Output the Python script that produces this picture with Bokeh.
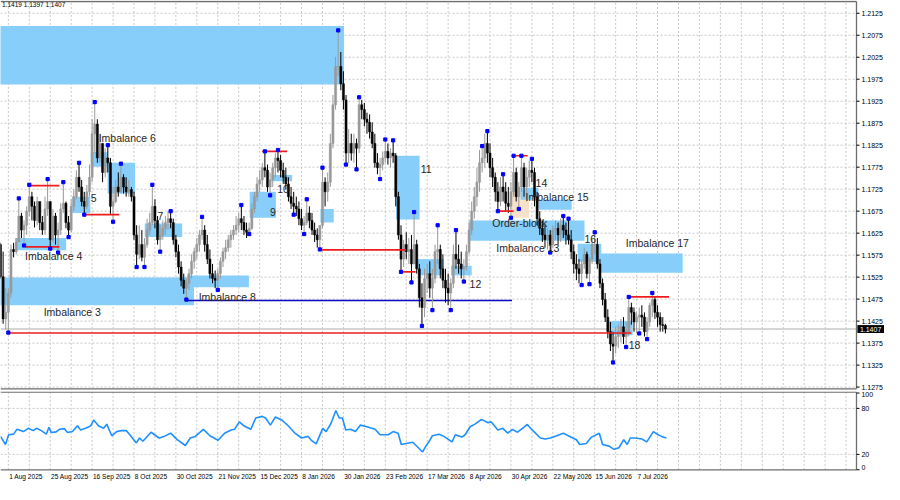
from bokeh.plotting import figure
from bokeh.layouts import column
from bokeh.models import Range1d, ColumnDataSource
from bokeh.embed import file_html
from bokeh.resources import INLINE
from bokeh.core.properties import value

# ---------------- data (prices as 1 + v/10000) ----------------
bar_idx = list(range(-3, 252))          # daily bars, 0 = 1 Aug 2025
first_open = 1599

high_v = [
    1603, 1583, 1500, 1500, 1599, 1603, 1614, 1704, 1671, 1654,
    1686, 1735, 1719, 1697, 1708, 1686, 1664, 1708, 1748, 1693,
    1680, 1671, 1649, 1693, 1741, 1697, 1664, 1702, 1724, 1768,
    1785, 1746, 1719, 1735, 1781, 1884, 1923, 1884, 1851, 1829,
    1818, 1825, 1796, 1730, 1746, 1763, 1783, 1759, 1752, 1746,
    1730, 1719, 1643, 1643, 1632, 1614, 1658, 1671, 1735, 1702,
    1664, 1643, 1654, 1664, 1675, 1675, 1658, 1621, 1599, 1561,
    1533, 1522, 1544, 1577, 1592, 1614, 1632, 1662, 1643, 1621,
    1588, 1555, 1540, 1544, 1570, 1592, 1610, 1621, 1632, 1643,
    1664, 1671, 1689, 1664, 1649, 1649, 1693, 1719, 1752, 1768,
    1785, 1811, 1781, 1763, 1785, 1807, 1814, 1803, 1785, 1774,
    1752, 1730, 1719, 1708, 1697, 1680, 1664, 1702, 1686, 1671,
    1649, 1636, 1632, 1774, 1752, 1763, 1851, 1939, 2026, 2086,
    2037, 1993, 1939, 1862, 1851, 1851, 1840, 1934, 1928, 1921,
    1899, 1895, 1877, 1851, 1807, 1796, 1811, 1838, 1829, 1818,
    1836, 1807, 1719, 1643, 1610, 1627, 1614, 1621, 1673, 1610,
    1555, 1511, 1544, 1555, 1561, 1544, 1599, 1643, 1599, 1577,
    1544, 1533, 1522, 1599, 1632, 1599, 1583, 1566, 1599, 1649,
    1697, 1730, 1774, 1814, 1823, 1851, 1857, 1829, 1796, 1763,
    1741, 1752, 1759, 1741, 1730, 1741, 1801, 1774, 1741, 1801,
    1785, 1774, 1790, 1794, 1774, 1719, 1675, 1654, 1643, 1636,
    1632, 1643, 1654, 1649, 1658, 1664, 1649, 1658, 1632, 1599,
    1577, 1566, 1566, 1592, 1583, 1570, 1610, 1627, 1614, 1566,
    1522, 1489, 1452, 1423, 1401, 1412, 1417, 1430, 1434, 1423,
    1480, 1467, 1456, 1445, 1456, 1461, 1445, 1434, 1467, 1489,
    1482, 1461, 1445, 1434, 1419,
]
low_v = [
    1522, 1419, 1406, 1399, 1478, 1570, 1577, 1605, 1614, 1597,
    1621, 1664, 1654, 1638, 1643, 1632, 1621, 1621, 1664, 1590,
    1605, 1599, 1581, 1621, 1671, 1636, 1616, 1627, 1675, 1702,
    1719, 1686, 1667, 1680, 1708, 1741, 1807, 1785, 1785, 1741,
    1752, 1763, 1669, 1651, 1693, 1708, 1715, 1715, 1708, 1708,
    1697, 1610, 1548, 1566, 1561, 1548, 1592, 1621, 1643, 1636,
    1599, 1583, 1610, 1621, 1632, 1636, 1599, 1570, 1533, 1504,
    1487, 1474, 1496, 1522, 1544, 1566, 1583, 1610, 1583, 1555,
    1522, 1511, 1500, 1496, 1522, 1548, 1566, 1583, 1592, 1610,
    1621, 1627, 1632, 1621, 1614, 1623, 1632, 1671, 1697, 1719,
    1730, 1752, 1719, 1711, 1730, 1752, 1763, 1752, 1737, 1724,
    1697, 1680, 1667, 1664, 1643, 1632, 1623, 1643, 1636, 1621,
    1605, 1592, 1588, 1636, 1686, 1697, 1730, 1818, 1906, 1982,
    1950, 1906, 1781, 1785, 1790, 1785, 1770, 1807, 1884, 1868,
    1851, 1840, 1818, 1774, 1759, 1748, 1768, 1785, 1781, 1774,
    1785, 1686, 1610, 1537, 1548, 1566, 1555, 1513, 1566, 1533,
    1456, 1414, 1434, 1489, 1478, 1450, 1511, 1555, 1522, 1500,
    1467, 1461, 1450, 1500, 1544, 1533, 1522, 1515, 1540, 1577,
    1621, 1658, 1686, 1719, 1763, 1774, 1785, 1752, 1730, 1697,
    1675, 1686, 1697, 1675, 1671, 1660, 1708, 1697, 1680, 1719,
    1708, 1697, 1730, 1741, 1686, 1643, 1621, 1605, 1592, 1588,
    1581, 1592, 1610, 1599, 1605, 1614, 1599, 1599, 1566, 1533,
    1518, 1511, 1507, 1544, 1522, 1509, 1555, 1577, 1544, 1500,
    1461, 1423, 1386, 1357, 1331, 1351, 1364, 1377, 1373, 1366,
    1390, 1417, 1401, 1397, 1397, 1412, 1390, 1384, 1412, 1434,
    1430, 1412, 1401, 1401, 1397,
]
close_v = [
    1526, 1430, 1445, 1489, 1588, 1583, 1605, 1664, 1632, 1643,
    1675, 1708, 1686, 1654, 1697, 1649, 1632, 1680, 1697, 1610,
    1664, 1621, 1632, 1680, 1693, 1649, 1632, 1686, 1708, 1752,
    1730, 1697, 1686, 1719, 1752, 1851, 1873, 1796, 1829, 1763,
    1796, 1785, 1686, 1697, 1730, 1719, 1752, 1730, 1719, 1724,
    1708, 1621, 1577, 1599, 1570, 1599, 1632, 1649, 1686, 1654,
    1610, 1621, 1636, 1649, 1658, 1649, 1610, 1583, 1548, 1518,
    1500, 1511, 1533, 1561, 1583, 1599, 1621, 1632, 1599, 1566,
    1533, 1522, 1518, 1533, 1561, 1583, 1592, 1610, 1621, 1632,
    1643, 1658, 1649, 1632, 1627, 1636, 1680, 1708, 1737, 1746,
    1774, 1768, 1730, 1746, 1774, 1796, 1790, 1768, 1752, 1737,
    1708, 1693, 1686, 1680, 1658, 1643, 1649, 1671, 1654, 1632,
    1621, 1610, 1643, 1741, 1719, 1741, 1829, 1917, 2004, 2004,
    1965, 1928, 1807, 1829, 1807, 1829, 1818, 1917, 1906, 1884,
    1877, 1855, 1829, 1785, 1774, 1781, 1796, 1811, 1796, 1807,
    1801, 1708, 1621, 1566, 1599, 1583, 1588, 1555, 1599, 1544,
    1478, 1456, 1522, 1533, 1500, 1522, 1583, 1588, 1544, 1518,
    1500, 1489, 1511, 1577, 1566, 1555, 1544, 1548, 1583, 1632,
    1675, 1708, 1741, 1785, 1796, 1829, 1807, 1774, 1752, 1719,
    1697, 1730, 1719, 1693, 1686, 1719, 1763, 1708, 1730, 1774,
    1730, 1752, 1768, 1763, 1708, 1658, 1636, 1621, 1610, 1621,
    1599, 1632, 1636, 1621, 1643, 1632, 1621, 1610, 1583, 1555,
    1544, 1533, 1555, 1577, 1533, 1566, 1599, 1599, 1555, 1511,
    1474, 1434, 1401, 1373, 1368, 1390, 1401, 1412, 1390, 1401,
    1456, 1445, 1423, 1434, 1439, 1434, 1401, 1423, 1461, 1474,
    1445, 1434, 1417, 1415, 1407,
]

# imbalance / supply-demand zones (bar index, v-units)
zone_left = [-10, -10, 68.2, 2.6, 24.4, 31.5, 37.9, 52.1, 92.2, 100.5, 119.2, 148.1,
             156.4, 169.1, 175.9, 195.7, 202.5, 217.5, 225.7, 229.5]
zone_right = [128.2, 70.9, 91.9, 22.1, 31.3, 37.9, 48.4, 66.4, 102.2, 108.4, 124.3, 157.1,
              166.3, 177.0, 220.1, 202.5, 215.2, 226.5, 257.6, 238.5]
zone_top = [2096, 1524, 1529, 1614, 1708, 1809, 1785, 1647, 1719, 1757, 1680, 1801,
            1566, 1551, 1654, 1728, 1701, 1601, 1579, 1425]
zone_bottom = [1963, 1461, 1502, 1586, 1671, 1776, 1715, 1616, 1660, 1743, 1649, 1656,
               1529, 1529, 1608, 1701, 1678, 1560, 1535, 1393]
ob_left, ob_right, ob_top, ob_bottom = [192.0], [198.9], [1726], [1660]

zone_text = ["Imbalance 6", "5", "Imbalance 4", "7", "Imbalance 3", "Imbalance 8", "9", "10",
             "11", "12", "Order-block", "Imbalance 13", "14", "Imbalance 15", "16",
             "Imbalance 17", "18"]
text_x = [34.5, 31.5, 6.4, 57.0, 13.5, 72.7, 100.0, 102.7, 157.5, 176.2, 184.9, 186.4,
          201.4, 197.6, 220.1, 235.9, 237.0]
text_v = [1842, 1704, 1572, 1664, 1445, 1480, 1673, 1726, 1772, 1509, 1648, 1592,
          1739, 1708, 1612, 1603, 1371]

red_x0 = [8, 6.4, 29.3, 97, 119.2, 150, 192.8, 187, 0, 237]
red_x1 = [19.5, 19.5, 42.4, 106.5, 151.9, 155.6, 198.4, 193, 238, 252.4]
red_v = [1733, 1594, 1667, 1811, 1587, 1537, 1801, 1675, 1398, 1480]
blue_x0, blue_x1, blue_v = [67.5], [192.4], [1472]

frac_hi_idx = [4, 8, 15, 21, 27, 33, 38, 43, 55, 62, 74, 89, 98, 103, 114, 120, 126, 134,
               144, 147, 155, 164, 171, 181, 183, 189, 193, 196, 200, 212, 214, 224, 237, 246]
frac_hi_v = [1704, 1735, 1748, 1741, 1785, 1923, 1825, 1783, 1735, 1675, 1662, 1689, 1811,
             1814, 1702, 1774, 2086, 1934, 1838, 1836, 1673, 1643, 1632, 1823, 1857, 1759,
             1801, 1801, 1794, 1664, 1658, 1627, 1480, 1489]
frac_lo_idx = [0, 6, 16, 19, 23, 29, 40, 49, 52, 58, 68, 80, 92, 100, 109, 113, 119, 129,
               133, 142, 150, 154, 158, 162, 169, 174, 187, 192, 195, 207, 219, 222, 231,
               236, 241, 244]
frac_lo_v = [1399, 1597, 1590, 1581, 1616, 1667, 1651, 1548, 1548, 1583, 1474, 1496, 1623,
             1711, 1667, 1623, 1588, 1781, 1770, 1748, 1537, 1513, 1414, 1450, 1450, 1515,
             1675, 1660, 1680, 1581, 1507, 1509, 1331, 1366, 1397, 1384]

last_price = 1.1407
last_price_lbl = "1.1407"
header = "1.1419 1.1397 1.1407"

rsi_x = [-3, -1.1, 0.1, 2, 3.25, 5.75, 7.6, 9.5, 10.75, 12.6, 14.5, 15.5, 16.4, 18.25, 19.5,
         21.4, 22.6, 24.5, 26.4, 27.6, 29.5, 31.4, 32.6, 34.5, 36.4, 37.6, 39.5, 41.4, 43.25,
         45.1, 46.4, 48.9, 50.1, 51.4, 54.5, 57.6, 59.5, 62, 64.5, 67.6, 69.5, 71.4, 74.5, 77,
         80.1, 82.6, 85.1, 86.4, 88.25, 90.1, 92.6, 94.5, 97, 98.25, 100.1, 102, 104.5, 107,
         109.5, 112, 114.5, 115.75, 117.6, 120.1, 121.4, 123.25, 125.1, 126.4, 127.6, 128.9,
         130.75, 132.6, 134.5, 137, 140.1, 142, 145.1, 147, 148.9, 150.1, 152, 154.5, 158.25,
         159.5, 160.75, 162, 164.5, 166.4, 169.5, 170.75, 173.25, 174.5, 176.4, 178.25,
         180.75, 183.25, 184.5, 187, 188.9, 190.75, 192.6, 194.5, 196.4, 198.25, 200.1,
         203.25, 205.1, 207, 209.5, 212, 213.9, 217, 218.25, 220.75, 222.6, 225.75, 227,
         229.5, 231.4, 233.25, 235.1, 236.4, 237.6, 239.5, 242, 243.9, 246.4, 248.25, 249.5,
         251.4]
rsi_v = [43.5, 32.9, 45.6, 46.4, 52.7, 49.8, 54, 51, 54, 51, 46.4, 55.3, 48.5, 49.4, 52.7,
         53.6, 48.5, 49.8, 57.4, 51.9, 54, 57, 64.8, 57, 54, 59.5, 44.3, 49.8, 51, 51, 45.6,
         35, 41.4, 37.1, 48.9, 41.4, 43.5, 47.7, 39.2, 31.6, 41.4, 43.5, 52.7, 44.3, 38.4,
         47.7, 51.9, 52.7, 62.4, 57, 52.7, 67.5, 69.6, 67.5, 58.2, 68.8, 64.8, 57, 47.7, 41.4,
         43.5, 38.4, 33.8, 54, 49.8, 60.3, 77.2, 67.5, 67.5, 51.9, 52.7, 49.8, 58.2, 56.1,
         52.7, 45.6, 45.6, 49.8, 47.7, 32.9, 34.2, 35.9, 23.2, 30.8, 37.1, 44.3, 46.4, 43.5,
         36.3, 45.6, 42.6, 45.6, 56.1, 59.5, 65.7, 61.2, 62.4, 51.9, 54, 47.7, 52.7, 48.9, 54,
         59.1, 51.9, 41.4, 40.1, 41.4, 44.3, 47.7, 44.3, 39.2, 32.9, 34.2, 42.2, 47.7, 32.9,
         30.8, 26.6, 28.7, 39.2, 32.9, 41.4, 41.4, 40.1, 36.3, 49.8, 45.6, 43.5, 41.4]

date_pos = [0, 16, 32, 48, 64, 80, 96, 112, 128, 144, 160, 176, 192, 208, 224, 240]
date_lbl = ["1 Aug 2025", "25 Aug 2025", "16 Sep 2025", "8 Oct 2025", "30 Oct 2025",
            "21 Nov 2025", "15 Dec 2025", "8 Jan 2026", "30 Jan 2026", "23 Feb 2026",
            "17 Mar 2026", "8 Apr 2026", "30 Apr 2026", "22 May 2026", "15 Jun 2026",
            "7 Jul 2026"]

price_ticks = [1.1275, 1.1325, 1.1375, 1.1425, 1.1475, 1.1525, 1.1575, 1.1625, 1.1675,
               1.1725, 1.1775, 1.1825, 1.1875, 1.1925, 1.1975, 1.2025, 1.2075, 1.2125]
price_tick_lbl = ["%.4f" % t for t in price_ticks]
rsi_ticks = [100, 80, 20, 0]
rsi_tick_lbl = ["100", "80", "20", "0"]
rsi_levels = [20, 80]


def pr(vals):
    return [1.0 + v / 10000.0 for v in vals]


# ---------------- layout constants ----------------
FONT = "Liberation Sans"
XL, XR, AX = -3.0, 334.7, 324.0        # x range; AX = price-axis line position
PY0, PY1 = 1.1265, 1.2154              # main panel y range
P_BOT, P_TOP = 1.1271, 1.21517         # main panel border lines
GRID_C, BORDER_C = "#C8C8C8", "#6E6E6E"
grid_x = list(range(0, 324, 8))
TICK_LEN, LBL_OFF = 1.15, 1.9

O = pr([first_open] + close_v[:-1])
H = pr(high_v)
L = pr(low_v)
C = pr(close_v)
col = ["#999999" if c >= o else "#000000" for o, c in zip(O, C)]
src = ColumnDataSource(dict(x=bar_idx, h=H, l=L, top=[max(a, b) for a, b in zip(O, C)],
                            bot=[min(a, b) for a, b in zip(O, C)], col=col))

xr = Range1d(XL, XR)
p = figure(frame_width=884, frame_height=391, x_range=xr, y_range=Range1d(PY0, PY1),
           output_backend="svg", toolbar_location=None, x_axis_location=None,
           y_axis_location=None, min_border=0, outline_line_color=None,
           background_fill_color="white", border_fill_color="white")
p.xgrid.visible = False
p.ygrid.visible = False

# grid
p.segment(x0=[XL] * len(price_ticks), x1=[AX] * len(price_ticks), y0=price_ticks,
          y1=price_ticks, line_color=GRID_C, line_dash="2 2", line_width=1)
p.segment(x0=grid_x, x1=grid_x, y0=[P_BOT] * len(grid_x), y1=[P_TOP] * len(grid_x),
          line_color=GRID_C, line_dash="2 2", line_width=1)

# zones
p.quad(left=ob_left, right=ob_right, top=pr(ob_top), bottom=pr(ob_bottom),
       fill_color="#F6E2CB", line_color=None)
p.quad(left=zone_left, right=zone_right, top=pr(zone_top), bottom=pr(zone_bottom),
       fill_color="#87CEFA", line_color=None)
# current price line
p.segment(x0=[XL], x1=[AX], y0=[last_price], y1=[last_price], line_color="#C8C8C8",
          line_width=1.5)
p.segment(x0=blue_x0, x1=blue_x1, y0=pr(blue_v), y1=pr(blue_v), line_color="#0A0AC8",
          line_width=1.5)
# candles
p.segment(x0="x", y0="l", x1="x", y1="h", line_color="col", line_width=1, source=src)
p.vbar(x="x", width=0.8, top="top", bottom="bot", fill_color="col", line_color="col",
       line_width=0.5, source=src)
p.segment(x0=red_x0, x1=red_x1, y0=pr(red_v), y1=pr(red_v), line_color="#EE1C1C",
          line_width=1.7)
p.scatter(x=frac_hi_idx, y=pr(frac_hi_v), marker="square", size=3.2, fill_color="#0000FF",
          line_color="#0000FF")
p.scatter(x=frac_lo_idx, y=pr(frac_lo_v), marker="square", size=3.2, fill_color="#0000FF",
          line_color="#0000FF")
p.text(x=text_x, y=pr(text_v), text=zone_text, text_font=value(FONT),
       text_font_size="10.5px", text_color="#262626", text_baseline="middle",
       text_align="left")
p.text(x=[-2.4], y=[1.2144], text=[header], text_font=value(FONT), text_font_size="6.5px",
       text_color="#000000", text_baseline="middle", text_align="left")

# borders + price axis
p.segment(x0=[XL, XL, AX], x1=[AX, AX, AX], y0=[P_TOP, P_BOT, P_BOT],
          y1=[P_TOP, P_BOT, P_TOP], line_color=BORDER_C, line_width=1.3)
p.segment(x0=[AX] * len(price_ticks), x1=[AX + TICK_LEN] * len(price_ticks), y0=price_ticks,
          y1=price_ticks, line_color="#000000", line_width=1)
p.text(x=[AX + LBL_OFF] * len(price_ticks), y=price_ticks, text=price_tick_lbl,
       text_font=value(FONT), text_font_size="7px", text_color="#000000",
       text_baseline="middle", text_align="left")
p.quad(left=[AX + 0.35], right=[XR], top=[last_price + 0.0009],
       bottom=[last_price - 0.0009], fill_color="#000000", line_color=None)
p.text(x=[AX + 1.3], y=[last_price], text=[last_price_lbl], text_font=value(FONT),
       text_font_size="7px", text_color="#FFFFFF", text_baseline="middle",
       text_align="left")

# ---------------- RSI panel ----------------
R_BOT, R_TOP = -0.1, 101.1
r = figure(frame_width=884, frame_height=93, x_range=xr, y_range=Range1d(-19.2, 102.0),
           output_backend="svg", toolbar_location=None, x_axis_location=None,
           y_axis_location=None, min_border=0, outline_line_color=None,
           background_fill_color="white", border_fill_color="white")
r.xgrid.visible = False
r.ygrid.visible = False
r.segment(x0=[XL] * 2, x1=[AX] * 2, y0=rsi_levels, y1=rsi_levels, line_color=GRID_C,
          line_dash="2 2", line_width=1)
r.segment(x0=grid_x, x1=grid_x, y0=[R_BOT] * len(grid_x), y1=[R_TOP] * len(grid_x),
          line_color=GRID_C, line_dash="2 2", line_width=1)
r.line(x=rsi_x, y=rsi_v, line_color="#1E90FF", line_width=1.6)
r.segment(x0=[XL, XL, AX], x1=[AX, AX, AX], y0=[R_TOP, R_BOT, R_BOT],
          y1=[R_TOP, R_BOT, R_TOP], line_color=BORDER_C, line_width=1.3)
r.segment(x0=[AX] * 4, x1=[AX + TICK_LEN] * 4, y0=rsi_ticks, y1=rsi_ticks,
          line_color="#000000", line_width=1)
r.text(x=[AX + LBL_OFF], y=[R_TOP], text=[rsi_tick_lbl[0]], text_font=value(FONT),
       text_font_size="7px", text_color="#000000", text_baseline="top", text_align="left")
r.text(x=[AX + LBL_OFF] * 2, y=rsi_ticks[1:3], text=rsi_tick_lbl[1:3],
       text_font=value(FONT), text_font_size="7px", text_color="#000000",
       text_baseline="middle", text_align="left")
r.text(x=[AX + LBL_OFF], y=[R_BOT], text=[rsi_tick_lbl[3]], text_font=value(FONT),
       text_font_size="7px", text_color="#000000", text_baseline="bottom", text_align="left")
# date labels, left-aligned at their grid line like the terminal does
r.text(x=[d + 0.3 for d in date_pos], y=[-9.0] * len(date_pos), text=date_lbl,
       text_font=value(FONT), text_font_size="6.6px", text_color="#000000",
       text_baseline="middle", text_align="left")

layout = column(p, r, spacing=0)
open("out.html", "w").write(file_html(layout, INLINE, title="chart"))
